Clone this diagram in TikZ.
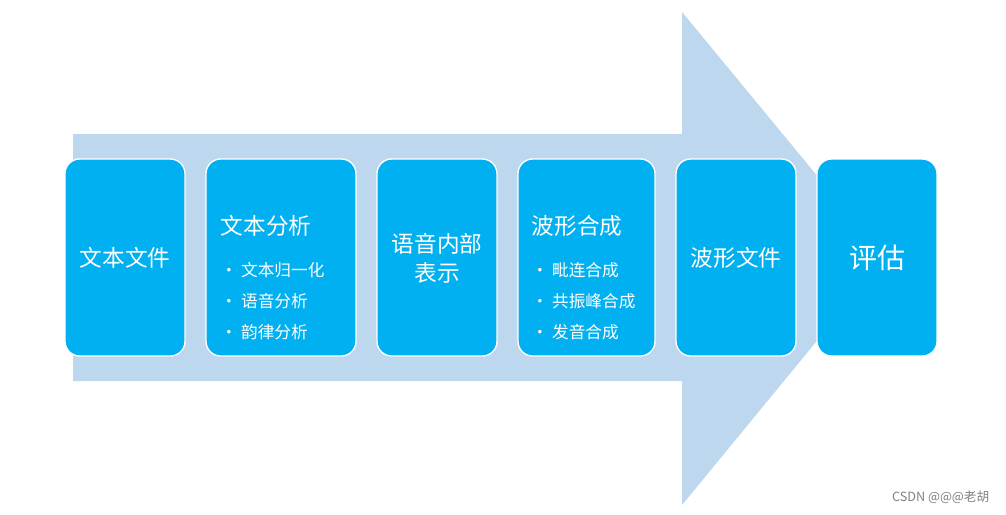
\documentclass[tikz,border=0pt]{standalone}
\usepackage{fontspec}
\setmainfont{Noto Sans CJK SC}
\begin{document}
\begin{tikzpicture}[x=0.75pt,y=-0.75pt,
  box/.style={draw=white,line width=1pt,fill=boxblue,rounded corners=11pt},
  ttl/.style={text=white,font=\fontsize{17}{20}\selectfont,align=center},
  itm/.style={text=white,font=\fontsize{12.5}{15}\selectfont,anchor=west}]
\definecolor{boxblue}{HTML}{00B0F0}
\definecolor{arrowblue}{HTML}{BDD7EE}
\useasboundingbox (0,0) rectangle (1006,514);
\fill[arrowblue] (73,134) -- (682,134) -- (682,12) -- (885,258) -- (682,505) -- (682,381) -- (73,381) -- cycle;
\draw[box] (65,159) rectangle (185,356);
\node[ttl] (t1) at (125,258) {文本文件};
\draw[box] (206,159) rectangle (356,356);
\node[ttl,anchor=west] (t2) at (216,226) {文本分析};
\node[itm] (b21) at (216,270) {• 文本归一化};
\node[itm] (b22) at (216,301) {• 语音分析};
\node[itm] (b23) at (216,332) {• 韵律分析};
\draw[box] (377,159) rectangle (497,356);
\node[ttl] (t3) at (437,258) {语音内部\\[2pt]表示};
\draw[box] (518,159) rectangle (655,356);
\node[ttl,anchor=west] (t4) at (527,226) {波形合成};
\node[itm] (b41) at (527,270) {• 毗连合成};
\node[itm] (b42) at (527,301) {• 共振峰合成};
\node[itm] (b43) at (527,332) {• 发音合成};
\draw[box] (676,159) rectangle (796,356);
\node[ttl] (t5) at (736,258) {波形文件};
\draw[box] (817,159) rectangle (937,356);
\node[ttl,font=\fontsize{21}{24}\selectfont] (t6) at (877,258) {评估};
\node[text=gray,font=\fontsize{9.5}{11}\selectfont,anchor=east] (wm) at (994,497) {CSDN @@@老胡};
\end{tikzpicture}
\end{document}
